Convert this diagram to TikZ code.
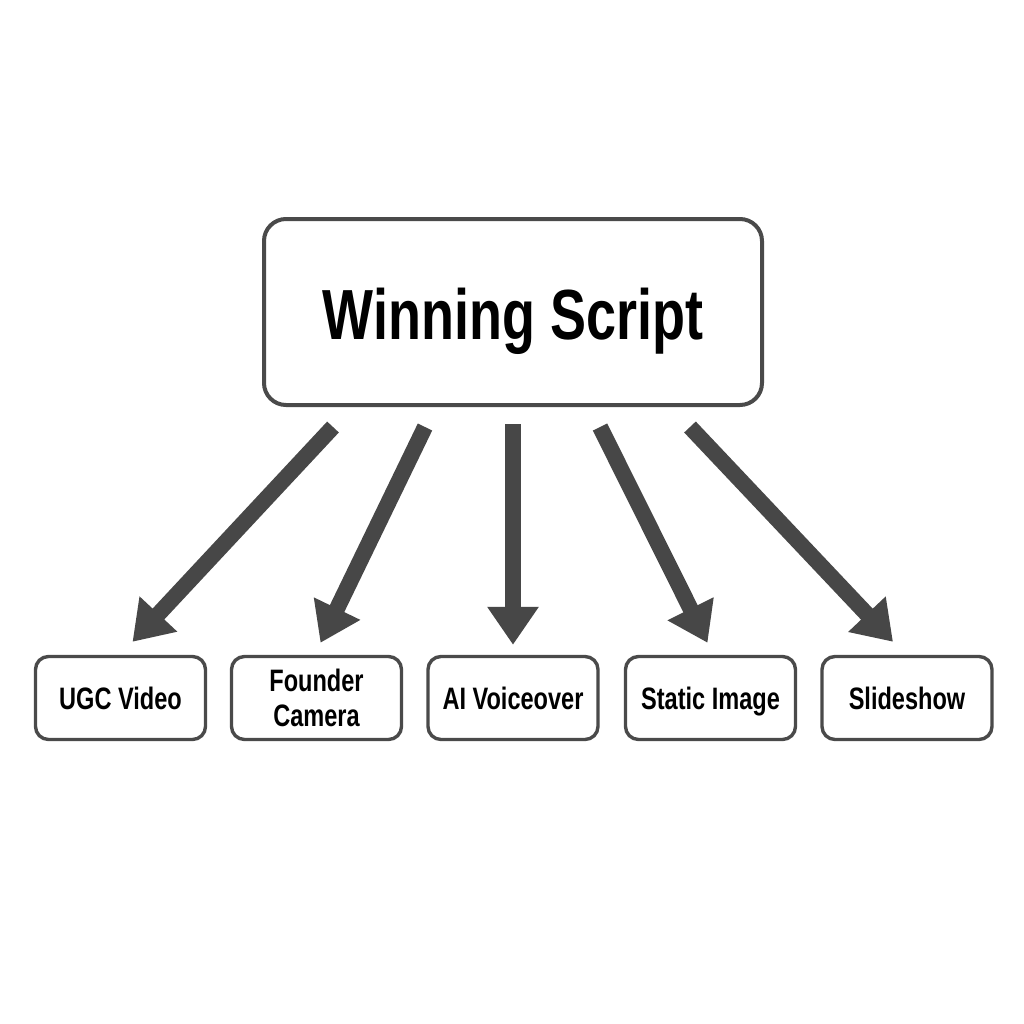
\documentclass[tikz,border=0pt]{standalone}
\usepackage{fontspec}
\setmainfont[FakeStretch=0.76]{Liberation Sans}
\usetikzlibrary{arrows.meta,calc}
\definecolor{edge}{HTML}{4A4A4A}
\definecolor{arrowc}{HTML}{474747}
\begin{document}
\begin{tikzpicture}[x=0.5pt,y=-0.5pt,
  mainbox/.style={draw=edge,line width=2pt,rounded corners=11pt,fill=white,
    minimum width=249pt,minimum height=93pt,inner sep=0pt,text depth=0pt,
    font=\fontsize{35.5}{40}\selectfont\bfseries},
  leaf/.style={draw=edge,line width=1.7pt,rounded corners=6.5pt,fill=white,
    minimum width=85pt,minimum height=41.5pt,inner sep=0pt,align=center,
    text depth=0pt,font=\fontsize{15.5}{17.5}\selectfont\bfseries},
  arr/.style={draw=arrowc,line width=8pt,
    -{Triangle[width=24.5pt,length=19pt]}}]
\useasboundingbox[fill=white] (0,0) rectangle (1024,1024);
\node[mainbox] (main) at (513,312) {\raisebox{-2pt}{Winning Script}};
\node[leaf] (ugc) at (120.5,698) {UGC Video};
\node[leaf] (founder) at (316.5,698) {Founder\\Camera};
\node[leaf] (ai) at (513,698) {AI Voiceover};
\node[leaf] (static) at (710.5,698) {Static Image};
\node[leaf] (slide) at (907,698) {Slideshow};
\coordinate (s1) at ($(main.south)+(-180,20)$);
\coordinate (s2) at ($(main.south)+(-88,20)$);
\coordinate (s3) at ($(main.south)+(0,17)$);
\coordinate (s4) at ($(main.south)+(87,20)$);
\coordinate (s5) at ($(main.south)+(177,20)$);
\draw[arr] (s1) -- ($(ugc.north)+(12,-13)$);
\draw[arr] (s2) -- ($(founder.north)+(4,-12)$);
\draw[arr] (s3) -- ($(ai.north)+(0,-10)$);
\draw[arr] (s4) -- ($(static.north)+(-3,-12)$);
\draw[arr] (s5) -- ($(slide.north)+(-14,-13)$);
\end{tikzpicture}
\end{document}
